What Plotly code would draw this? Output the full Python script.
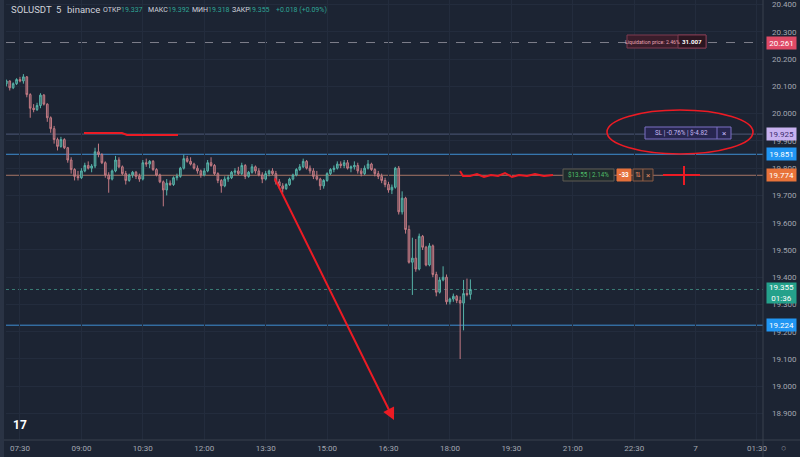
import plotly.graph_objects as go
import pandas as pd

# ---------------- data ----------------
opens = [20.110, 20.120, 20.095, 20.110, 20.125, 20.120, 20.135, 20.070, 20.020, 20.015,
         20.030, 20.068, 20.035, 19.985, 19.945, 19.905, 19.880, 19.905, 19.875, 19.830,
         19.795, 19.770, 19.765, 19.790, 19.810, 19.800, 19.808, 19.860, 19.850, 19.820,
         19.775, 19.760, 19.790, 19.830, 19.805, 19.780, 19.755, 19.775, 19.785, 19.770,
         19.760, 19.820, 19.815, 19.825, 19.795, 19.775, 19.750, 19.720, 19.745, 19.740,
         19.765, 19.770, 19.800, 19.835, 19.825, 19.815, 19.800, 19.790, 19.775, 19.790,
         19.820, 19.810, 19.780, 19.755, 19.735, 19.760, 19.765, 19.785, 19.790, 19.780,
         19.810, 19.770, 19.785, 19.805, 19.790, 19.775, 19.760, 19.780, 19.790, 19.780,
         19.750, 19.735, 19.725, 19.740, 19.760, 19.775, 19.795, 19.805, 19.825, 19.800,
         19.790, 19.770, 19.760, 19.735, 19.755, 19.780, 19.795, 19.800, 19.815, 19.810,
         19.820, 19.800, 19.805, 19.810, 19.790, 19.780, 19.800, 19.815, 19.795, 19.780,
         19.770, 19.755, 19.740, 19.720, 19.730, 19.800, 19.640, 19.690, 19.575, 19.455,
         19.470, 19.430, 19.550, 19.510, 19.445, 19.515, 19.410, 19.345, 19.390, 19.400,
         19.310, 19.320, 19.330, 19.315, 19.305, 19.340, 19.337]
highs = [20.125, 20.122, 20.115, 20.130, 20.135, 20.145, 20.138, 20.075, 20.035, 20.040,
         20.075, 20.072, 20.038, 19.990, 19.955, 19.912, 19.915, 19.910, 19.878, 19.840,
         19.800, 19.790, 19.800, 19.820, 19.825, 19.815, 19.875, 19.890, 19.855, 19.825,
         19.785, 19.795, 19.845, 19.840, 19.810, 19.790, 19.780, 19.790, 19.790, 19.780,
         19.830, 19.835, 19.830, 19.830, 19.800, 19.780, 19.755, 19.760, 19.755, 19.770,
         19.780, 19.805, 19.850, 19.845, 19.840, 19.820, 19.810, 19.795, 19.800, 19.830,
         19.840, 19.815, 19.785, 19.760, 19.770, 19.775, 19.790, 19.800, 19.805, 19.820,
         19.815, 19.790, 19.815, 19.810, 19.800, 19.785, 19.790, 19.795, 19.800, 19.790,
         19.760, 19.745, 19.745, 19.765, 19.780, 19.800, 19.815, 19.835, 19.830, 19.810,
         19.800, 19.790, 19.765, 19.760, 19.785, 19.800, 19.810, 19.825, 19.825, 19.830,
         19.830, 19.810, 19.825, 19.820, 19.800, 19.810, 19.830, 19.820, 19.800, 19.790,
         19.780, 19.765, 19.750, 19.740, 19.805, 19.808, 19.715, 19.695, 19.590, 19.545,
         19.540, 19.560, 19.555, 19.515, 19.525, 19.520, 19.420, 19.400, 19.440, 19.410,
         19.325, 19.340, 19.335, 19.330, 19.390, 19.395, 19.392]
lows = [20.100, 20.085, 20.090, 20.105, 20.115, 20.110, 20.060, 19.985, 20.005, 20.010,
        20.020, 20.030, 19.970, 19.930, 19.890, 19.865, 19.875, 19.870, 19.820, 19.780,
        19.755, 19.755, 19.760, 19.785, 19.795, 19.785, 19.800, 19.840, 19.815, 19.765,
        19.710, 19.755, 19.785, 19.800, 19.775, 19.740, 19.750, 19.765, 19.760, 19.750,
        19.755, 19.805, 19.800, 19.790, 19.770, 19.745, 19.660, 19.700, 19.735, 19.735,
        19.755, 19.765, 19.795, 19.820, 19.810, 19.795, 19.780, 19.765, 19.770, 19.785,
        19.805, 19.775, 19.745, 19.710, 19.730, 19.750, 19.760, 19.775, 19.775, 19.775,
        19.760, 19.765, 19.780, 19.780, 19.770, 19.745, 19.755, 19.770, 19.775, 19.740,
        19.725, 19.710, 19.720, 19.735, 19.755, 19.770, 19.790, 19.800, 19.795, 19.780,
        19.760, 19.755, 19.720, 19.725, 19.750, 19.775, 19.785, 19.795, 19.800, 19.800,
        19.795, 19.785, 19.795, 19.780, 19.770, 19.775, 19.795, 19.790, 19.770, 19.760,
        19.745, 19.730, 19.710, 19.705, 19.725, 19.630, 19.630, 19.560, 19.450, 19.335,
        19.420, 19.425, 19.500, 19.440, 19.440, 19.400, 19.330, 19.340, 19.385, 19.300,
        19.300, 19.310, 19.305, 19.100, 19.205, 19.330, 19.318]
closes = [20.120, 20.095, 20.110, 20.125, 20.120, 20.135, 20.070, 20.020, 20.015, 20.030,
          20.068, 20.035, 19.985, 19.945, 19.905, 19.880, 19.905, 19.875, 19.830, 19.795,
          19.770, 19.765, 19.790, 19.810, 19.800, 19.808, 19.860, 19.850, 19.820, 19.775,
          19.760, 19.790, 19.830, 19.805, 19.780, 19.755, 19.775, 19.785, 19.770, 19.760,
          19.820, 19.815, 19.825, 19.795, 19.775, 19.750, 19.720, 19.745, 19.740, 19.765,
          19.770, 19.800, 19.835, 19.825, 19.815, 19.800, 19.790, 19.775, 19.790, 19.820,
          19.810, 19.780, 19.755, 19.735, 19.760, 19.765, 19.785, 19.790, 19.780, 19.810,
          19.770, 19.785, 19.805, 19.790, 19.775, 19.760, 19.780, 19.790, 19.780, 19.750,
          19.735, 19.725, 19.740, 19.760, 19.775, 19.795, 19.805, 19.825, 19.800, 19.790,
          19.770, 19.760, 19.735, 19.755, 19.780, 19.795, 19.800, 19.815, 19.810, 19.820,
          19.800, 19.805, 19.810, 19.790, 19.780, 19.800, 19.815, 19.795, 19.780, 19.770,
          19.755, 19.740, 19.720, 19.730, 19.800, 19.640, 19.690, 19.575, 19.455, 19.470,
          19.430, 19.550, 19.510, 19.445, 19.515, 19.410, 19.345, 19.390, 19.400, 19.310,
          19.320, 19.330, 19.315, 19.305, 19.340, 19.337, 19.355]
first_candle = "2022-01-06 07:10"
times = pd.date_range(first_candle, periods=len(closes), freq="5min")

price_ticks = [18.9, 19.0, 19.1, 19.2, 19.3, 19.4, 19.5, 19.6, 19.7, 19.8, 19.9, 20.0,
               20.1, 20.2, 20.3, 20.4]
time_tick_vals = ["2022-01-06 07:30", "2022-01-06 09:00", "2022-01-06 10:30",
                  "2022-01-06 12:00", "2022-01-06 13:30", "2022-01-06 15:00",
                  "2022-01-06 16:30", "2022-01-06 18:00", "2022-01-06 19:30",
                  "2022-01-06 21:00", "2022-01-06 22:30", "2022-01-07 00:00",
                  "2022-01-07 01:30"]
time_tick_text = ["07:30", "09:00", "10:30", "12:00", "13:30", "15:00", "16:30",
                  "18:00", "19:30", "21:00", "22:30", "7", "01:30"]

liq_price = 20.261
sl_price = 19.925
upper_level = 19.851
entry_price = 19.774
last_price = 19.355
lower_level = 19.224

# ---------------- styling ----------------
BG = "#1c2433"
GRID = "#232c3d"
SEP = "#39414f"
TXT = "#a3a7b1"
UP = "#56b3a8"
DOWN = "#c27a83"
RED = "#ec1b24"
FONT = "Roboto"

W, H = 800, 457
ML, MR, MT, MB = 6, 37, 0, 17
PW, PH = W - ML - MR, H - MT - MB


def px(x):
    return (x - ML) / PW


def py(y):
    return (H - MB - y) / PH


fig = go.Figure()
fig.add_trace(go.Candlestick(
    x=times, open=opens, high=highs, low=lows, close=closes,
    increasing=dict(line=dict(color=UP, width=1), fillcolor="rgba(86,179,168,0.45)"),
    decreasing=dict(line=dict(color=DOWN, width=1), fillcolor="rgba(194,122,131,0.45)"),
    whiskerwidth=0, hoverinfo="skip", showlegend=False,
))

shapes = []


def hline(y, color, dash="solid", width=1):
    shapes.append(dict(type="line", xref="paper", x0=0, x1=1, yref="y", y0=y, y1=y,
                       line=dict(color=color, width=width, dash=dash), layer="below"))


hline(liq_price, "#7e7f8c", "dash")
hline(sl_price, "#4e5878")
hline(upper_level, "#3f8fd4")
hline(entry_price, "#a77566")
hline(last_price, "#3b7c76", "dot")
hline(lower_level, "#3f8fd4")

# separators
shapes.append(dict(type="line", xref="paper", yref="paper", x0=1, x1=1, y0=py(H), y1=py(0),
                   line=dict(color=SEP, width=1)))
shapes.append(dict(type="line", xref="paper", yref="paper", x0=px(0), x1=px(W), y0=0, y1=0,
                   line=dict(color=SEP, width=1)))
shapes.append(dict(type="rect", xref="paper", yref="paper", x0=px(0), x1=px(4), y0=py(H), y1=py(0),
                   fillcolor="#2a3344", line=dict(width=0)))


def rect(x0, y0, x1, y1, fill, border):
    shapes.append(dict(type="rect", xref="paper", yref="paper", x0=px(x0), x1=px(x1),
                       y0=py(y1), y1=py(y0), fillcolor=fill, line=dict(color=border, width=1)))


annotations = []


def text(x, y, s, color, size, anchor="center", bold=False, bg=None):
    annotations.append(dict(xref="paper", yref="paper", x=px(x), y=py(y),
                            text=f"<b>{s}</b>" if bold else s,
                            showarrow=False, xanchor=anchor, yanchor="middle",
                            font=dict(color=color, size=size, family=FONT),
                            bgcolor=bg))


# liquidation box
rect(627, 35, 706, 48, "#3a1d2b", "#7f3a50")
rect(678, 35, 706, 48, "#2b1621", "#7f3a50")
text(652, 41.5, "Liquidation price: 2.46%", "#e6a2b3", 5.2)
text(692, 41.5, "31.007", "#ffffff", 6.2, bold=True)

# SL box
rect(645, 127, 731, 139, "#27264f", "#7d70c6")
shapes.append(dict(type="line", xref="paper", yref="paper", x0=px(717), x1=px(717),
                   y0=py(139), y1=py(127), line=dict(color="#7d70c6", width=1)))
text(681, 133, "SL | -0.76% | $-4.82", "#c5b8f5", 6.3)
text(724, 133, "×", "#c5b8f5", 8)

# position box
rect(563, 169, 614, 181, "#1f2b2c", "#5f5a52")
text(588.5, 175, "$13.55 | 2.14%", "#4fbf6a", 6.3)
rect(617, 169, 631, 181, "#e5703a", "#e5703a")
text(624, 175, "-33", "#ffffff", 6.3, bold=True)
rect(633, 169, 643, 181, "#2a2a2e", "#8a5a44")
text(638, 175, "⇅", "#e08a60", 7)
rect(643, 169, 653, 181, "#2a2a2e", "#8a5a44")
text(648, 175, "×", "#e08a60", 8)

# header
text(9, 10, "SOLUSDT", "#cfd2da", 9.5, "left")
text(54, 10, "5", "#cfd2da", 9.5, "left")
text(65, 10, "binance", "#cfd2da", 9.5, "left")
hdr = [(101, "ОТКР", "#cfd2da"), (119, "19.337", "#2fa595"), (146, "МАКС", "#cfd2da"),
       (166, "19.392", "#2fa595"), (190, "МИН", "#cfd2da"), (206, "19.318", "#2fa595"),
       (230, "ЗАКР", "#cfd2da"), (246, "19.355", "#2fa595"), (274, "+0.018 (+0.09%)", "#2fa595")]
for x, s, c in hdr:
    text(x, 10.5, s, c, 7, "left")

# TV logo
text(11, 425, "17", "#ffffff", 12, "left", bold=True)
# gear icon
text(783, 448, "○", "#8a8e98", 9)


def plabel(y, s, bg, fg, h=10):
    annotations.append(dict(xref="paper", yref="y", x=1, y=y, xanchor="left", yanchor="middle",
                            xshift=3, text=s, showarrow=False, bgcolor=bg, width=27, height=h,
                            borderpad=1, font=dict(color=fg, size=8, family=FONT)))


plabel(liq_price, "20.261", "#df4a66", "#ffffff")
plabel(sl_price, "19.925", "#c8b2f0", "#3b2d6e")
plabel(upper_level, "19.851", "#2196f3", "#ffffff")
plabel(entry_price, "19.774", "#e8733a", "#ffffff")
plabel(last_price - 0.012, "19.355<br>01:36", "#24a18b", "#ffffff", h=18)
plabel(lower_level, "19.224", "#2196f3", "#ffffff")


def path(points):
    d = "M " + " L ".join(f"{px(x):.5f},{py(y):.5f}" for x, y in points)
    shapes.append(dict(type="path", xref="paper", yref="paper", path=d,
                       line=dict(color=RED, width=2)))


path([(84, 133), (122, 133), (127, 135), (178, 135)])
path([(460, 171), (463, 176), (470, 176), (477, 174), (484, 177), (491, 175), (498, 176),
      (505, 173), (512, 177), (519, 175), (527, 176), (535, 174), (544, 176), (553, 175)])
path([(663, 175), (700, 175)])
path([(684, 166), (684, 185)])
shapes.append(dict(type="circle", xref="paper", yref="paper", x0=px(607), x1=px(753),
                   y0=py(154), y1=py(110), line=dict(color=RED, width=1.6)))
annotations.append(dict(xref="paper", yref="paper", x=px(394), y=py(420), ax=274 - 394, ay=177 - 420,
                        axref="pixel", ayref="pixel", text="", showarrow=True, arrowhead=2,
                        arrowsize=1.2, arrowwidth=2, arrowcolor=RED))

fig.update_layout(
    width=W, height=H, margin=dict(l=ML, r=MR, t=MT, b=MB, autoexpand=False),
    paper_bgcolor=BG, plot_bgcolor=BG,
    shapes=shapes, annotations=annotations, showlegend=False,
    font=dict(family=FONT, color=TXT),
    xaxis=dict(type="date", range=["2022-01-06 07:09:30", "2022-01-07 01:38:48"],
               rangeslider=dict(visible=False), tickvals=time_tick_vals, ticktext=time_tick_text,
               showgrid=True, gridcolor=GRID, gridwidth=1, zeroline=False, showline=False,
               tickfont=dict(size=8, color=TXT, family=FONT), ticks="", ticklabelstandoff=2),
    yaxis=dict(side="right", range=[18.8028, 20.417], tickvals=price_ticks,
               ticktext=[f"{v:.3f}" for v in price_ticks], showgrid=True, gridcolor=GRID,
               zeroline=False, showline=False, ticks="", ticklabelstandoff=8,
               tickfont=dict(size=8, color=TXT, family=FONT)),
)

fig.write_html("out.html", config={"displayModeBar": False},
               post_script="document.body.style.margin='0';document.body.style.background='" + BG + "';")
